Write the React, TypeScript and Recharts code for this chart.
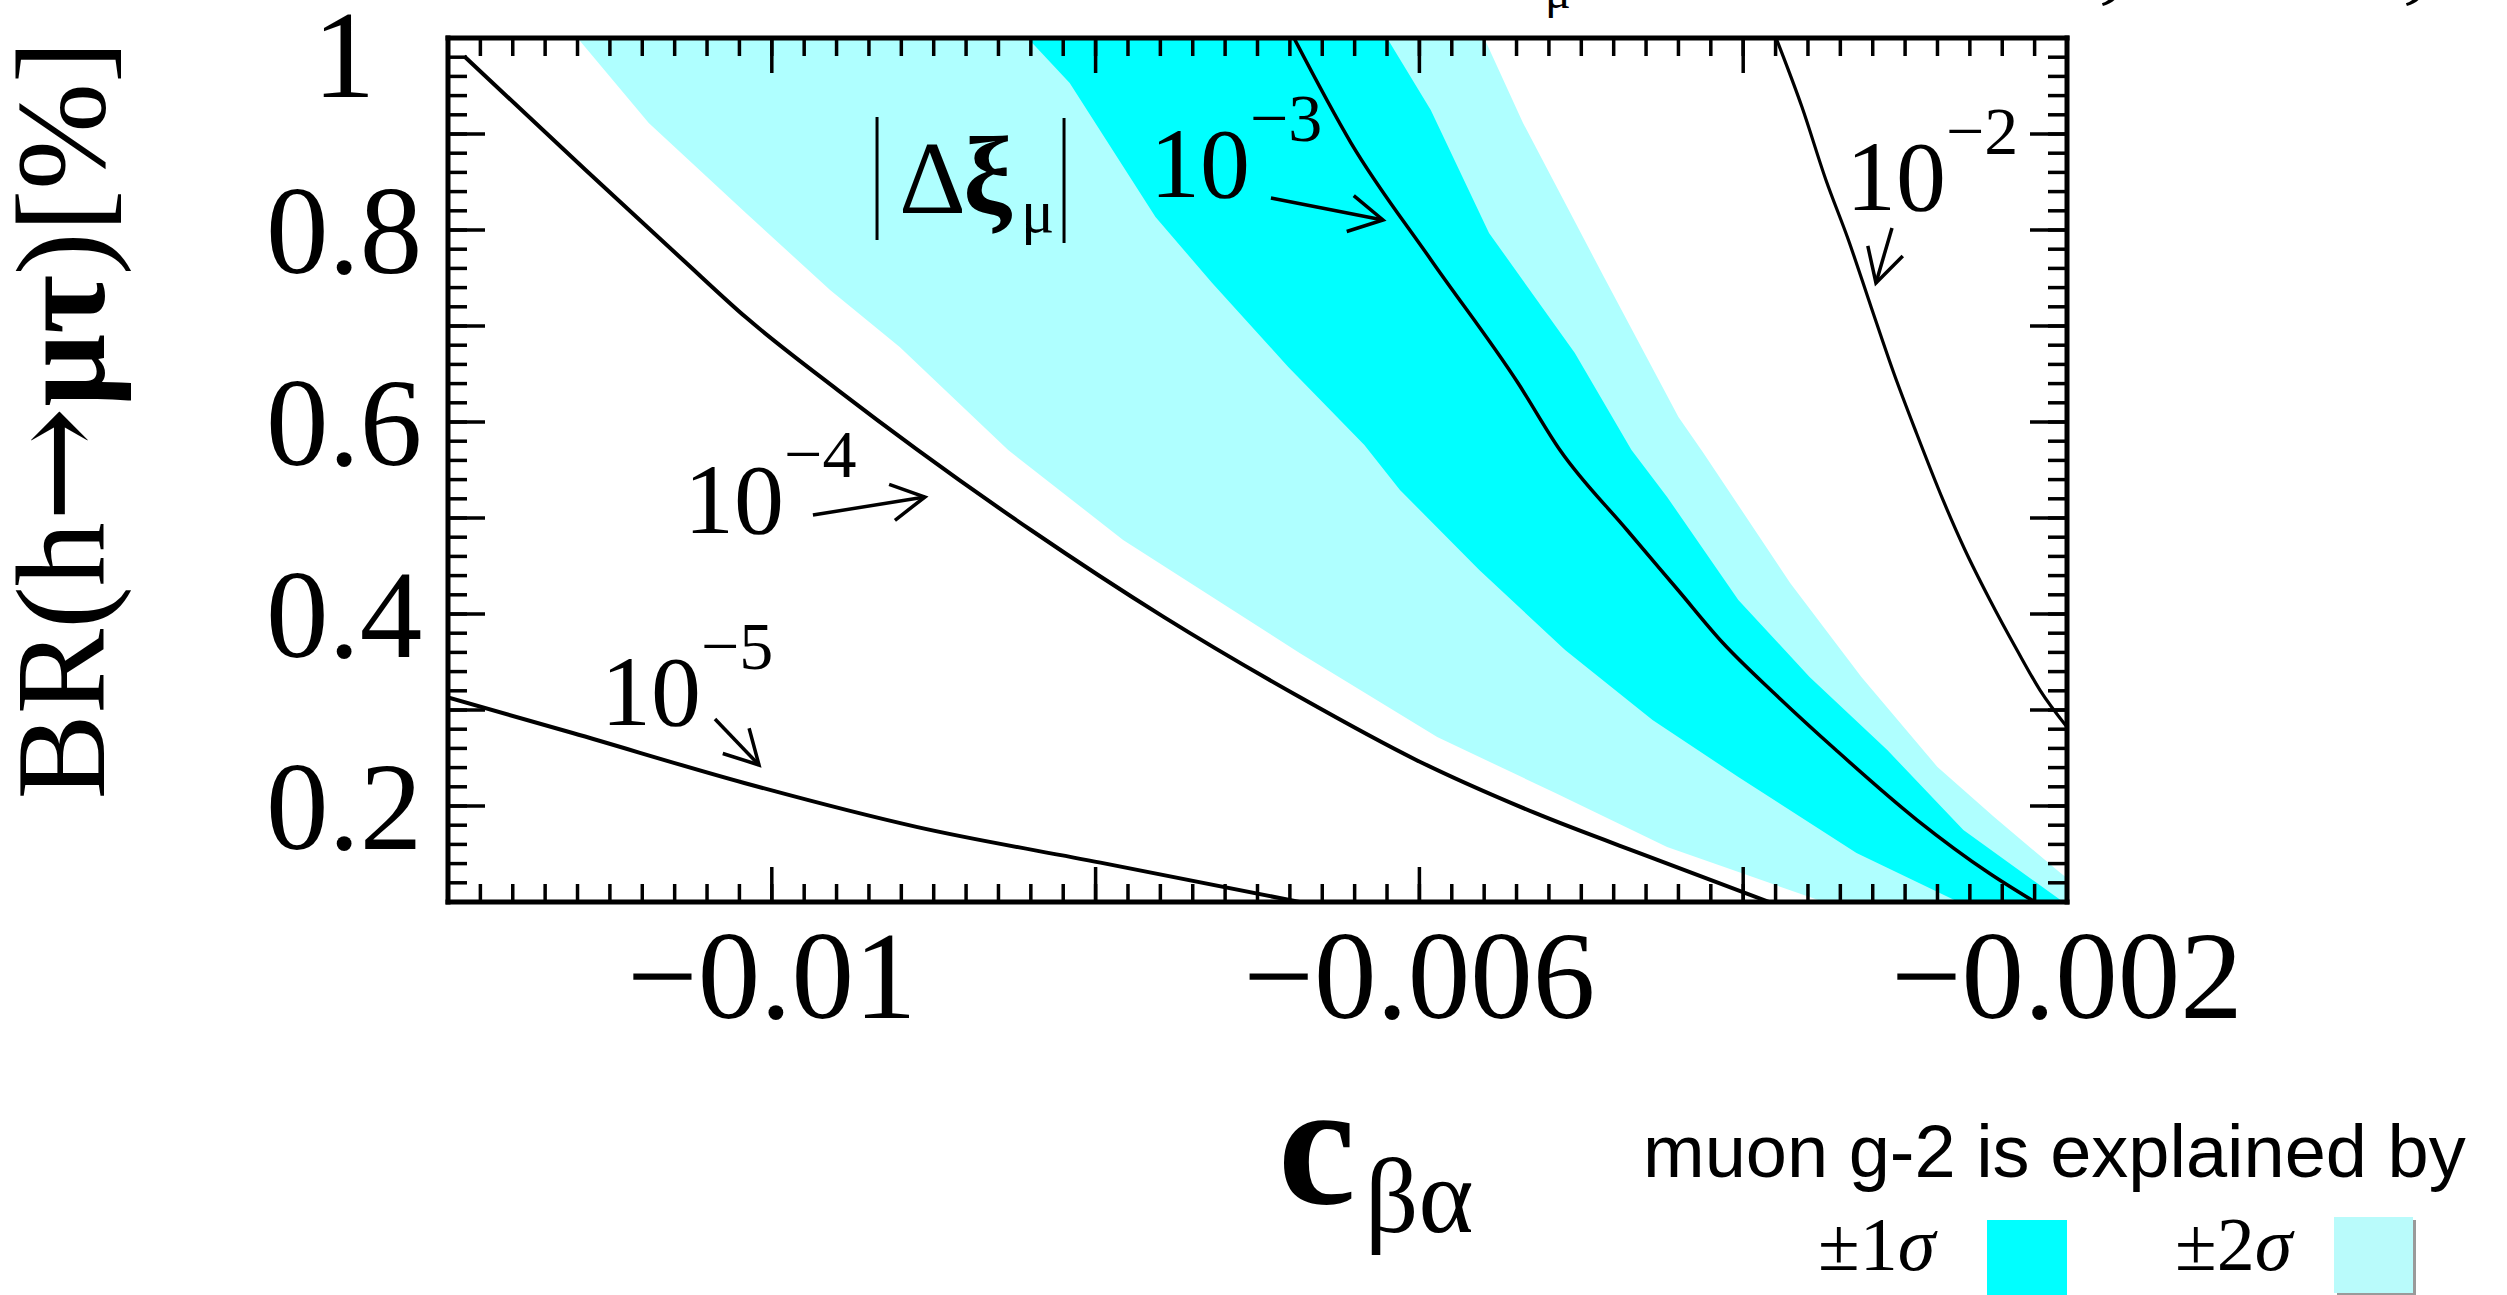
import {
  Area,
  ComposedChart,
  Line,
  ReferenceDot,
  ReferenceLine,
  XAxis,
  YAxis,
} from "recharts"

const SERIF = "'Liberation Serif', 'Times New Roman', serif"
const SANS = "'Liberation Sans', Arial, sans-serif"

const W = 2507
const H = 1295

const LIGHT = "#afffff"
const CYAN = "#00ffff"

const xDomain = [-0.012, -0.002]
const yDomain = [0.1, 1]

const xMinorTicks = Array.from({ length: 51 }, (_, i) => -0.012 + i * 0.0002)
const xMajorTicks = [-0.012, -0.01, -0.008, -0.006, -0.004, -0.002]
const xLabelValues = [-0.01, -0.006, -0.002]
const xLabels = ["−0.01", "−0.006", "−0.002"]

const yMinorTicks = Array.from({ length: 46 }, (_, i) => 0.1 + i * 0.02)
const yMajorTicks = [0.1, 0.2, 0.3, 0.4, 0.5, 0.6, 0.7, 0.8, 0.9, 1]
const yLabelValues = [0.2, 0.4, 0.6, 0.8, 1]
const yLabels = ["0.2", "0.4", "0.6", "0.8", "1"]

// |Δξ_μ| contours, [c_βα, BR %]
const xi5 = [
  [-0.012, 0.313], [-0.01123, 0.276], [-0.01017, 0.224], [-0.0091, 0.178],
  [-0.00797, 0.141], [-0.00674, 0.1],
]
const xi4 = [
  [-0.0119, 0.981], [-0.01115, 0.8625], [-0.01055, 0.769], [-0.01016, 0.709],
  [-0.00959, 0.633], [-0.0091, 0.571], [-0.0084, 0.4875], [-0.00758, 0.397],
  [-0.00674, 0.3135], [-0.00602, 0.248], [-0.00529, 0.193], [-0.00453, 0.144],
  [-0.00384, 0.1],
]
const xi3 = [
  [-0.006775, 1], [-0.006422, 0.8906], [-0.005928, 0.7688], [-0.005391, 0.6406],
  [-0.005132, 0.5708], [-0.004718, 0.4875], [-0.004403, 0.425], [-0.004125, 0.3698],
  [-0.00381, 0.3177], [-0.003427, 0.2583], [-0.002926, 0.1854], [-0.002482, 0.1302],
  [-0.002198, 0.1],
]
const xi2 = [
  [-0.003797, 1], [-0.003637, 0.9281], [-0.003489, 0.8521], [-0.00335, 0.7896],
  [-0.00321, 0.7198], [-0.00307, 0.651], [-0.00293, 0.5885], [-0.002766, 0.5188],
  [-0.00263, 0.4667], [-0.002476, 0.4146], [-0.002309, 0.3625], [-0.002167, 0.3208],
  [-0.002, 0.2823],
]

// g-2 band edges
const sigma2Left = [
  [-0.0112, 1], [-0.01076, 0.9115], [-0.01016, 0.8177], [-0.00964, 0.7375],
  [-0.00921, 0.6781], [-0.00854, 0.5708], [-0.00783, 0.4771], [-0.00674, 0.3594],
  [-0.00589, 0.2719], [-0.00516, 0.2135], [-0.00447, 0.1573], [-0.00359, 0.1052],
  [-0.0035, 0.1],
]
const sigma1Left = [
  [-0.00842, 1], [-0.00816, 0.9531], [-0.00763, 0.8135], [-0.00728, 0.7448],
  [-0.00681, 0.6573], [-0.00634, 0.576], [-0.00612, 0.5292], [-0.00563, 0.4458],
  [-0.0051, 0.3625], [-0.00456, 0.2896], [-0.00403, 0.2302], [-0.0033, 0.151],
  [-0.00267, 0.1],
]
const sigma1Right = [
  [-0.0062, 1], [-0.00593, 0.925], [-0.00557, 0.7969], [-0.00504, 0.6719],
  [-0.00469, 0.5708], [-0.00447, 0.5219], [-0.00403, 0.4146], [-0.00359, 0.3344],
  [-0.00311, 0.2583], [-0.00264, 0.175], [-0.00204, 0.102], [-0.00202, 0.1],
]
const sigma2Right = [
  [-0.0056, 1], [-0.00536, 0.9115], [-0.00486, 0.751], [-0.0044, 0.6052],
  [-0.00425, 0.5688], [-0.00371, 0.4323], [-0.00327, 0.3344], [-0.0028, 0.2406],
  [-0.00245, 0.1885], [-0.00204, 0.1302], [-0.002, 0.125],
]

const powerLabels = [
  { x: -0.007664, y: 0.8344, exp: "−3" },
  { x: -0.003365, y: 0.8208, exp: "−2" },
  { x: -0.010542, y: 0.4844, exp: "−4" },
  { x: -0.011055, y: 0.2844, exp: "−5" },
]
const arrows = [
  [[-0.006917, 0.8333], [-0.006225, 0.8104]],
  [[-0.003081, 0.8021], [-0.00318, 0.7448]],
  [[-0.009746, 0.5031], [-0.009054, 0.5219]],
  [[-0.010351, 0.2906], [-0.010079, 0.2427]],
]
const xiLabelAt = { x: -0.00935, y: 0.7896 }

const toPts = (arr: number[][]) => arr.map(([x, y]) => ({ x, y }))
// area below an edge, closed along the top of the frame on the left
const below = (arr: number[][]) => [{ x: -0.012, y: 1 }, ...toPts(arr)]

const axisLine = { stroke: "#000", strokeWidth: 5, strokeLinecap: "square" as const }
const tickLine = { stroke: "#000", strokeWidth: 3.5 }

const NoLabel = () => <g />

function XLabelTick(props: any) {
  const i = xLabelValues.findIndex((v) => Math.abs(v - props.payload.value) < 1e-9)
  if (i < 0) return <g />
  return (
    <text x={props.x} y={1018} textAnchor="middle" fontFamily={SERIF} fontSize={125} fill="#000">
      {xLabels[i]}
    </text>
  )
}

function YLabelTick(props: any) {
  const i = yLabelValues.findIndex((v) => Math.abs(v - props.payload.value) < 1e-9)
  if (i < 0) return <g />
  const cy = Math.max(props.y, 54)
  return (
    <text x={344} y={cy + 43} textAnchor="middle" fontFamily={SERIF} fontSize={125} fill="#000">
      {yLabels[i]}
    </text>
  )
}

function Arrow(props: any) {
  const { x1, y1, x2, y2 } = props
  const a = Math.atan2(y2 - y1, x2 - x1)
  const L = 38
  const s = 0.5
  const p1 = `${x2 - L * Math.cos(a - s)},${y2 - L * Math.sin(a - s)}`
  const p2 = `${x2 - L * Math.cos(a + s)},${y2 - L * Math.sin(a + s)}`
  return (
    <g>
      <line x1={x1} y1={y1} x2={x2} y2={y2} stroke="#000" strokeWidth={3.5} />
      <polyline points={`${p1} ${x2},${y2} ${p2}`} fill="none" stroke="#000" strokeWidth={3.5} />
    </g>
  )
}

const powerShape = (exp: string) => (p: any) => (
  <g fontFamily={SERIF} fill="#000">
    <text x={p.cx} y={p.cy} fontSize={100}>10</text>
    <text x={p.cx + 100} y={p.cy - 56} fontSize={68}>{exp}</text>
  </g>
)

function XiShape(p: any) {
  const { cx, cy } = p
  return (
    <g fontFamily={SERIF} fill="#000">
      <line x1={cx} y1={cy - 123} x2={cx} y2={cy} stroke="#000" strokeWidth={3} />
      <text x={cx + 22} y={cy - 27} fontSize={104}>Δ</text>
      <text x={cx + 86} y={cy - 27} fontSize={110} fontWeight="bold">ξ</text>
      <text x={cx + 144} y={cy - 8} fontSize={62}>μ</text>
      <line x1={cx + 187} y1={cy - 122} x2={cx + 187} y2={cy + 3} stroke="#000" strokeWidth={3} />
    </g>
  )
}

export default function App() {
  return (
    <div style={{ position: "absolute", left: 0, top: 0, width: W, height: H, overflow: "hidden", background: "#fff" }}>
      <ComposedChart width={W} height={H} margin={{ top: 36, right: 438, bottom: 391, left: 446 }}>
        <Area data={below(sigma2Right)} dataKey="y" type="linear" baseValue={0.1} fill={LIGHT} fillOpacity={1} stroke="none" isAnimationActive={false} />
        <Area data={below(sigma1Right)} dataKey="y" type="linear" baseValue={0.1} fill={CYAN} fillOpacity={1} stroke="none" isAnimationActive={false} />
        <Area data={below(sigma1Left)} dataKey="y" type="linear" baseValue={0.1} fill={LIGHT} fillOpacity={1} stroke="none" isAnimationActive={false} />
        <Area data={below(sigma2Left)} dataKey="y" type="linear" baseValue={0.1} fill="#fff" fillOpacity={1} stroke="none" isAnimationActive={false} />

        <Line data={toPts(xi5)} dataKey="y" type="monotone" stroke="#000" strokeWidth={4} dot={false} isAnimationActive={false} />
        <Line data={toPts(xi4)} dataKey="y" type="monotone" stroke="#000" strokeWidth={4} dot={false} isAnimationActive={false} />
        <Line data={toPts(xi3)} dataKey="y" type="monotone" stroke="#000" strokeWidth={3.5} dot={false} isAnimationActive={false} />
        <Line data={toPts(xi2)} dataKey="y" type="monotone" stroke="#000" strokeWidth={3.2} dot={false} isAnimationActive={false} />

        {powerLabels.map((l) => (
          <ReferenceDot key={l.exp} x={l.x} y={l.y} r={1} shape={powerShape(l.exp)} />
        ))}
        {arrows.map(([a, b], i) => (
          <ReferenceLine key={i} segment={[{ x: a[0], y: a[1] }, { x: b[0], y: b[1] }]} shape={Arrow} />
        ))}
        <ReferenceDot x={xiLabelAt.x} y={xiLabelAt.y} r={1} shape={XiShape} />

        <XAxis dataKey="x" type="number" domain={xDomain} allowDataOverflow ticks={xMinorTicks} interval={0}
          height={1} tickSize={-18} tick={NoLabel} axisLine={axisLine} tickLine={tickLine} />
        <XAxis xAxisId="xb2" dataKey="x" type="number" domain={xDomain} allowDataOverflow ticks={xMajorTicks} interval={0}
          height={1} tickSize={-36} tick={XLabelTick} axisLine={false} tickLine={tickLine} />
        <XAxis xAxisId="xt1" dataKey="x" orientation="top" type="number" domain={xDomain} allowDataOverflow ticks={xMinorTicks} interval={0}
          height={1} tickSize={-18} tick={NoLabel} axisLine={axisLine} tickLine={tickLine} />
        <XAxis xAxisId="xt2" dataKey="x" orientation="top" type="number" domain={xDomain} allowDataOverflow ticks={xMajorTicks} interval={0}
          height={1} tickSize={-36} tick={NoLabel} axisLine={false} tickLine={tickLine} />

        <YAxis type="number" domain={yDomain} allowDataOverflow ticks={yMinorTicks} interval={0}
          width={1} tickSize={-19} tick={NoLabel} axisLine={axisLine} tickLine={tickLine} />
        <YAxis yAxisId="yl2" type="number" domain={yDomain} allowDataOverflow ticks={yMajorTicks} interval={0}
          width={1} tickSize={-38} tick={YLabelTick} axisLine={false} tickLine={tickLine} />
        <YAxis yAxisId="yr1" orientation="right" type="number" domain={yDomain} allowDataOverflow ticks={yMinorTicks} interval={0}
          width={1} tickSize={-19} tick={NoLabel} axisLine={axisLine} tickLine={tickLine} />
        <YAxis yAxisId="yr2" orientation="right" type="number" domain={yDomain} allowDataOverflow ticks={yMajorTicks} interval={0}
          width={1} tickSize={-38} tick={NoLabel} axisLine={false} tickLine={tickLine} />
      </ComposedChart>

      <svg width={W} height={H} style={{ position: "absolute", left: 0, top: 0, pointerEvents: "none" }}>
        <g fontFamily={SERIF} fill="#000">
          <text transform="translate(104,420) rotate(-90)" textAnchor="middle" fontSize={128}>
            BR(h<tspan fontFamily="'DejaVu Serif'" fontSize={138}>→</tspan><tspan fontWeight="bold">μτ</tspan>)[%]
          </text>
          <text x={1278} y={1203} fontSize={175} fontWeight="bold">c</text>
          <text x={1365} y={1232} fontSize={105}>βα</text>
          <text x={1545} y={8} fontSize={48}>μ</text>
          <text x={2080} y={-12} fontSize={100} fontStyle="italic">ξ</text>
          <text x={2384} y={-12} fontSize={100} fontStyle="italic">ξ</text>
          <text x={1818} y={1270} fontSize={76}>±1<tspan fontStyle="italic">σ</tspan></text>
          <text x={2175} y={1270} fontSize={76}>±2<tspan fontStyle="italic">σ</tspan></text>
        </g>
        <text x={1643} y={1177} fontFamily={SANS} fontSize={74} fill="#000">muon g-2 is explained by</text>
        <rect x={1987} y={1220} width={80} height={80} fill={CYAN} />
        <rect x={2337} y={1220} width={79} height={76} fill="#9a9a9a" />
        <rect x={2334} y={1217} width={79} height={76} fill="#b9fbfb" />
      </svg>
    </div>
  )
}
